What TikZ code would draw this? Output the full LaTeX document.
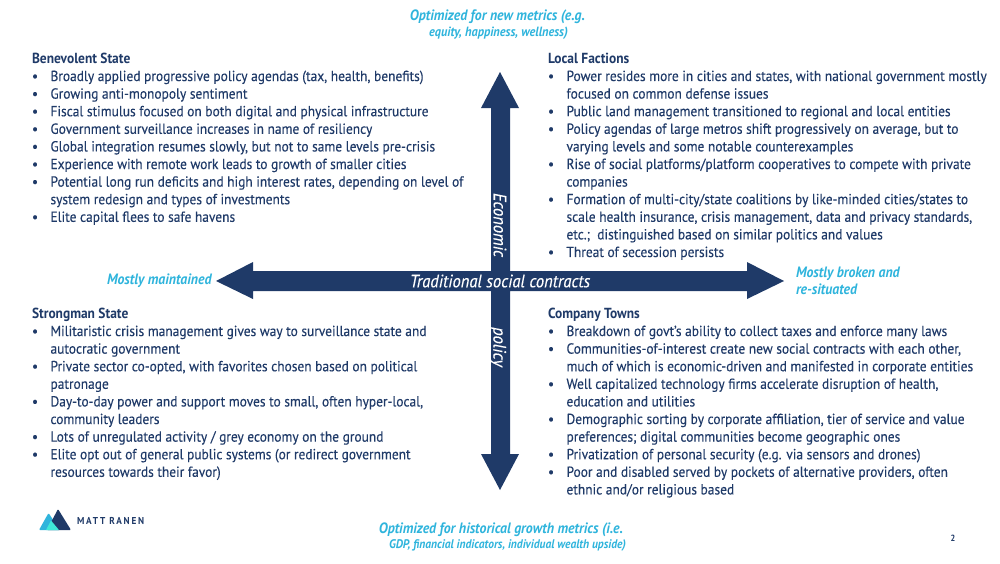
\documentclass[tikz,border=0pt]{standalone}
\usepackage{fontspec}
\setmainfont[FakeStretch=0.92,UprightFeatures={FakeBold=0.2},ItalicFeatures={FakeBold=0.2}]{PT Sans}
\usepackage{xcolor}
\usetikzlibrary{positioning,calc}
\definecolor{navy}{HTML}{1F3A68}
\definecolor{skyb}{HTML}{2FB4DC}
\definecolor{tealb}{HTML}{3FE8D8}
\newcommand{\bul}{\makebox[18.5pt][l]{•}}
\newcommand{\cont}{\hspace*{18.5pt}}
\begin{document}
\begin{tikzpicture}[
          x=1pt, y=-1pt,
          every node/.style={inner sep=0pt, outer sep=0pt},
          block/.style={anchor=north west, align=left, text=navy, font=\fontsize{14.6}{17.6}\selectfont},
          metric/.style={align=center, text=skyb, font=\fontsize{15}{16}\selectfont\bfseries\itshape},
          small/.style={align=center, text=skyb, font=\fontsize{13}{16}\selectfont\bfseries\itshape},
          side/.style={align=left, text=skyb, font=\fontsize{15}{17.4}\selectfont\bfseries\itshape},
          onarrow/.style={text=white, font=\fontsize{18}{18}\selectfont\itshape},
          bigarrow/.style={fill=navy}
      ]
        \useasboundingbox (0,0) rectangle (1000,563);

        % axes
        \fill[bigarrow] (500,72) -- (519,108) -- (510,108) -- (510,271) -- (710,271) -- (747,271)
          -- (747,262) -- (784,281) -- (747,299) -- (747,291) -- (510,291) -- (510,454) -- (519,454)
          -- (500,490) -- (481,454) -- (491,454) -- (491,291) -- (253,291) -- (253,299) -- (216,281)
          -- (253,262) -- (253,271) -- (491,271) -- (491,108) -- (481,108) -- cycle;
        \node[onarrow] (hlabel) at (500,281) {Traditional social contracts};
        \node[onarrow, rotate=-90] (vlabela) at (500,225) {Economic};
        \node[onarrow, rotate=-90] (vlabelb) at (498,347) {policy};

        % axis ends
        \node[metric] (topa) at (497.5,17) {Optimized for new metrics (e.g.};
        \node[small, font=\fontsize{13.4}{16}\selectfont\bfseries\itshape] (topb) at (498.5,33.5) {equity, happiness, wellness)};
        \node[metric] (bota) at (501,530) {Optimized for historical growth metrics (i.e.};
        \node[small, font=\fontsize{12.5}{16}\selectfont\bfseries\itshape] (botb) at (507.5,545.5) {GDP, financial indicators, individual wealth upside)};
        \node[side, anchor=west] (left) at (107,281) {Mostly maintained};
        \node[side, anchor=west] (right) at (796,281) {Mostly broken and\\re-situated};

        % quadrants
        \node[block] (ben) at (32,53) {\textbf{Benevolent State}\\
          \bul Broadly applied progressive policy agendas (tax, health, benefits)\\
          \bul Growing anti-monopoly sentiment\\
          \bul Fiscal stimulus focused on both digital and physical infrastructure\\
          \bul Government surveillance increases in name of resiliency\\
          \bul Global integration resumes slowly, but not to same levels pre-crisis\\
          \bul Experience with remote work leads to growth of smaller cities\\
          \bul Potential long run deficits and high interest rates, depending on level of\\
          \cont system redesign and types of investments\\
          \bul Elite capital flees to safe havens};

        \node[block] (loc) at (548,53) {\textbf{Local Factions}\\
          \bul Power resides more in cities and states, with national government mostly\\
          \cont focused on common defense issues\\
          \bul Public land management transitioned to regional and local entities\\
          \bul Policy agendas of large metros shift progressively on average, but to\\
          \cont varying levels and some notable counterexamples\\
          \bul Rise of social platforms/platform cooperatives to compete with private\\
          \cont companies\\
          \bul Formation of multi-city/state coalitions by like-minded cities/states to\\
          \cont scale health insurance, crisis management, data and privacy standards,\\
          \cont etc.;\ \ distinguished based on similar politics and values\\
          \bul Threat of secession persists};

        \node[block] (str) at (32,308) {\textbf{Strongman State}\\
          \bul Militaristic crisis management gives way to surveillance state and\\
          \cont autocratic government\\
          \bul Private sector co-opted, with favorites chosen based on political\\
          \cont patronage\\
          \bul Day-to-day power and support moves to small, often hyper-local,\\
          \cont community leaders\\
          \bul Lots of unregulated activity / grey economy on the ground\\
          \bul Elite opt out of general public systems (or redirect government\\
          \cont resources towards their favor)};

        \node[block] (com) at (548,308) {\textbf{Company Towns}\\
          \bul Breakdown of govt’s ability to collect taxes and enforce many laws\\
          \bul Communities-of-interest create new social contracts with each other,\\
          \cont much of which is economic-driven and manifested in corporate entities\\
          \bul Well capitalized technology firms accelerate disruption of health,\\
          \cont education and utilities\\
          \bul Demographic sorting by corporate affiliation, tier of service and value\\
          \cont preferences; digital communities become geographic ones\\
          \bul Privatization of personal security (e.g. via sensors and drones)\\
          \bul Poor and disabled served by pockets of alternative providers, often\\
          \cont ethnic and/or religious based};

        % logo
        \fill[skyb, rounded corners=1pt] (39,530) -- (48.5,513) -- (60,530) -- cycle;
        \fill[navy, rounded corners=1pt] (47,530) -- (58,509) -- (71,530) -- cycle;
        \fill[tealb, rounded corners=0.5pt] (46,530) -- (51,520.5) -- (59,530) -- cycle;
        \node[anchor=west, text=navy, font=\fontsize{10}{11}\selectfont\bfseries\addfontfeatures{LetterSpace=18}] (brand) at (77,521) {MATT RANEN};
        \node[text=navy, font=\fontsize{9}{11}\selectfont\bfseries] (page) at (953,538) {2};
      \end{tikzpicture}
\end{document}
